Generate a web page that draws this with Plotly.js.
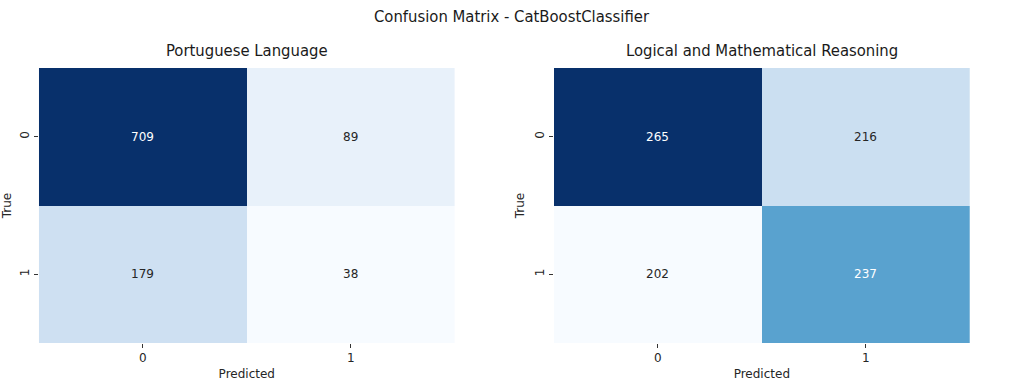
<!DOCTYPE html>
<html><head><meta charset="utf-8">
<script src="https://cdn.plot.ly/plotly-3.0.1.min.js"></script>
<style>html,body{margin:0;padding:0;background:#fff}#chart{width:1024px;height:381px}</style>
</head><body><div id="chart"></div>
<script>
const labels = ['0', '1'];
const portuguese = [[709, 89], [179, 38]];
const logical = [[265, 216], [202, 237]];
const subtitles = ['Portuguese Language', 'Logical and Mathematical Reasoning'];
const mainTitle = 'Confusion Matrix - CatBoostClassifier';

const blues = [[0,'#f7fbff'],[0.125,'#deebf7'],[0.25,'#c6dbef'],[0.375,'#9ecae1'],[0.5,'#6baed6'],[0.625,'#4292c6'],[0.75,'#2171b5'],[0.875,'#08519c'],[1,'#08306b']];
const mats = [portuguese, logical];
const titleFont = "'Liberation Sans Narrow', 'DejaVu Sans Condensed', 'Roboto', sans-serif";
const tickFont = "'DejaVu Sans', sans-serif";

const data = [];
const annotations = [];
mats.forEach((m, i) => {
  const flat = m.flat();
  const zmin = Math.min(...flat), zmax = Math.max(...flat);
  const ax = i === 0 ? '' : '2';
  data.push({type:'heatmap', x: labels, y: labels, z: m, colorscale: blues, zmin, zmax,
    showscale:false, xaxis:'x'+ax, yaxis:'y'+ax, hoverinfo:'z', xgap:0, ygap:0});
  m.forEach((row, r) => row.forEach((v, c) => {
    const t = (v - zmin) / (zmax - zmin);
    annotations.push({x: labels[c], y: labels[r], xref:'x'+ax, yref:'y'+ax, text:String(v), showarrow:false,
      font:{family:tickFont, size:12, color: t > 0.5 ? '#ffffff' : '#262626'}});
  }));
});
annotations.push({text: mainTitle, xref:'paper', yref:'paper', x:0.5, xanchor:'center', y:1-16/381, yanchor:'middle', showarrow:false,
  font:{family:titleFont, size:16.5, color:'#1a1a1a'}});
annotations.push({text: subtitles[0], xref:'paper', yref:'paper', x:(0.038+0.444)/2, xanchor:'center', y:1-51/381, yanchor:'middle', showarrow:false,
  font:{family:titleFont, size:16.5, color:'#1a1a1a'}});
annotations.push({text: subtitles[1], xref:'paper', yref:'paper', x:(0.541+0.947)/2, xanchor:'center', y:1-51/381, yanchor:'middle', showarrow:false,
  font:{family:titleFont, size:16.5, color:'#1a1a1a'}});

function xa(dom){return {domain:dom, type:'category', showgrid:false, zeroline:false, ticks:'outside', ticklen:4, tickcolor:'#333',
  tickfont:{family:tickFont, size:12, color:'#262626'}, showline:false,
  title:{text:'Predicted', font:{family:tickFont, size:12, color:'#262626'}, standoff:7}};}
function ya(anchor){return {domain:[1-343/381, 1-68/381], type:'category', autorange:'reversed', showgrid:false, zeroline:false,
  ticks:'outside', ticklen:4, tickcolor:'#333', tickangle:-90, anchor:anchor,
  tickfont:{family:tickFont, size:12, color:'#262626'},
  title:{text:'True', font:{family:tickFont, size:12, color:'#262626'}, standoff:5}};}

const layout = {
  width:1024, height:381, margin:{l:0,r:0,t:0,b:0}, paper_bgcolor:'#fff', plot_bgcolor:'#fff',
  xaxis: Object.assign(xa([0.038,0.444]), {anchor:'y'}),
  yaxis: ya('x'),
  xaxis2: Object.assign(xa([0.541,0.947]), {anchor:'y2'}),
  yaxis2: ya('x2'),
  annotations, showlegend:false
};
Plotly.newPlot('chart', data, layout, {displayModeBar:false, staticPlot:true});
</script></body></html>
